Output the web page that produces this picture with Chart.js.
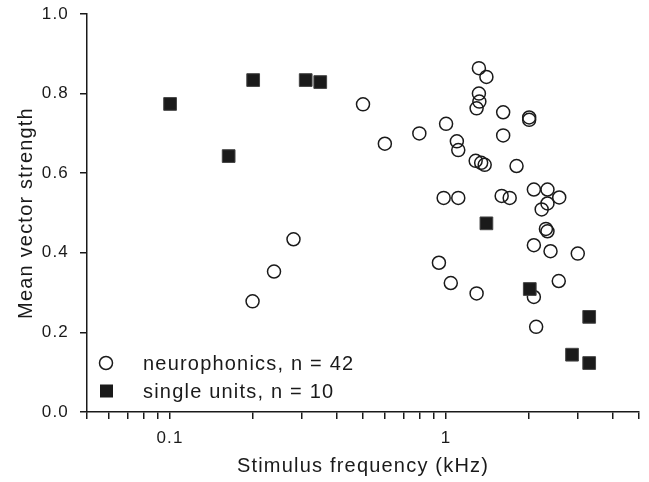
<!DOCTYPE html>
<html>
<head>
<meta charset="utf-8">
<script src="https://cdn.jsdelivr.net/npm/chart.js@4"></script>
<style>
  html, body { margin: 0; padding: 0; background: #fff; }
  #wrap { width: 649px; height: 482px; }
</style>
</head>
<body>
<div id="wrap"><canvas id="myChart" width="649" height="482"></canvas></div>
<script>
// neurophonics (open circles)
var neuroFreq = [0.50, 0.28, 0.238, 0.199, 0.60, 0.80, 1.00, 1.315, 1.40, 1.315,
  1.32, 1.29, 1.61, 2.00, 2.00, 1.61, 1.094, 1.107, 1.28, 1.34,
  1.38, 1.80, 0.98, 1.107, 1.59, 1.70, 2.08, 2.33, 2.57, 2.33,
  2.22, 2.30, 2.33, 2.08, 2.39, 3.00, 0.942, 1.04, 1.29, 2.08,
  2.56, 2.12];
var neuroVS = [0.773, 0.434, 0.353, 0.278, 0.674, 0.700, 0.724, 0.864, 0.842, 0.800,
  0.780, 0.763, 0.753, 0.740, 0.734, 0.695, 0.680, 0.658, 0.631, 0.626,
  0.621, 0.618, 0.538, 0.538, 0.543, 0.538, 0.559, 0.559, 0.539, 0.524,
  0.509, 0.460, 0.454, 0.419, 0.404, 0.398, 0.375, 0.324, 0.298, 0.289,
  0.329, 0.214];

// single units (filled squares)
var unitFreq = [0.10, 0.163, 0.20, 0.31, 0.35, 1.40, 2.01, 3.30, 2.86, 3.30];
var unitVS = [0.774, 0.643, 0.834, 0.834, 0.829, 0.474, 0.309, 0.239, 0.144, 0.123];

var seriesNames = ['neurophonics, n = 42', 'single units, n = 10'];
var xTicks = [0.05, 0.06, 0.07, 0.08, 0.09, 0.1, 0.2, 0.3, 0.4, 0.5, 0.6, 0.7, 0.8, 0.9, 1, 2, 3, 4, 5];
var xLabeled = [0.1, 1];

function toPoints(xs, ys) {
  return xs.map(function (x, i) { return { x: x, y: ys[i] }; });
}

var FONT = "'Liberation Sans', Arial, sans-serif";
var INK = '#1a1a1a';

// the printed figure has loosely spaced lettering
// (canvas resize wipes context state, so set it again before each pass)
var spacing = {
  id: 'spacing',
  beforeUpdate: function (chart) { chart.ctx.letterSpacing = '1.2px'; },
  beforeDraw: function (chart) { chart.ctx.letterSpacing = '1.2px'; }
};

// legend drawn inside the plot, bottom left
var insideLegend = {
  id: 'insideLegend',
  afterDraw: function (chart) {
    var ctx = chart.ctx;
    var a = chart.chartArea;
    ctx.save();
    ctx.font = '20px ' + FONT;
    ctx.textBaseline = 'middle';
    ctx.fillStyle = INK;
    var rows = [a.bottom - 49, a.bottom - 21];
    ctx.beginPath();
    ctx.lineWidth = 1.5;
    ctx.strokeStyle = INK;
    ctx.arc(a.left + 19, rows[0], 6.5, 0, Math.PI * 2);
    ctx.stroke();
    ctx.fillRect(a.left + 13, rows[1] - 6.5, 13, 13);
    ctx.fillText(seriesNames[0], a.left + 56, rows[0] + 1);
    ctx.fillText(seriesNames[1], a.left + 56, rows[1] + 1);
    ctx.restore();
  }
};

var ctx = document.getElementById('myChart');

var myChart = new Chart(ctx, {
  type: 'scatter',
  data: {
    datasets: [{
      label: seriesNames[0],
      data: toPoints(neuroFreq, neuroVS),
      pointStyle: 'circle',
      pointRadius: 6.5,
      pointHoverRadius: 6.5,
      backgroundColor: 'rgba(0,0,0,0)',
      borderColor: INK,
      borderWidth: 1.5,
      order: 1
    }, {
      label: seriesNames[1],
      data: toPoints(unitFreq, unitVS),
      pointStyle: 'rect',
      pointRadius: 9,
      pointHoverRadius: 9,
      backgroundColor: INK,
      borderColor: '#444',
      borderWidth: 1,
      order: 0
    }]
  },
  options: {
    responsive: false,
    animation: false,
    layout: { padding: { top: 14, right: 6, left: 0, bottom: 0 } },
    plugins: {
      legend: { display: false },
      tooltip: { enabled: false }
    },
    scales: {
      x: {
        type: 'logarithmic',
        min: 0.05,
        max: 5,
        afterBuildTicks: function (scale) {
          scale.ticks = xTicks.map(function (v) { return { value: v }; });
        },
        afterFit: function (scale) {
          scale.height = 70;
          scale.paddingLeft = 0;
          scale.paddingRight = 0;
        },
        ticks: {
          autoSkip: false,
          maxRotation: 0,
          padding: 9,
          color: INK,
          font: { family: FONT, size: 17 },
          callback: function (value) {
            return xLabeled.indexOf(value) >= 0 ? String(value) : '';
          }
        },
        grid: {
          drawOnChartArea: false,
          drawTicks: true,
          tickLength: 7,
          color: INK,
          lineWidth: 1.5
        },
        border: { display: true, color: INK, width: 1.5 },
        title: {
          display: true,
          text: 'Stimulus frequency (kHz)',
          color: INK,
          font: { family: FONT, size: 20 },
          padding: { top: 0, bottom: 4 }
        }
      },
      y: {
        min: 0,
        max: 1,
        afterFit: function (scale) {
          scale.width = 87;
          scale.paddingTop = 0;
          scale.paddingBottom = 0;
        },
        ticks: {
          stepSize: 0.2,
          padding: 11,
          color: INK,
          font: { family: FONT, size: 17 },
          callback: function (value) { return value.toFixed(1); }
        },
        grid: {
          drawOnChartArea: false,
          drawTicks: true,
          tickLength: 7,
          color: INK,
          lineWidth: 1.5
        },
        border: { display: true, color: INK, width: 1.5 },
        title: {
          display: true,
          text: 'Mean vector strength',
          color: INK,
          font: { family: FONT, size: 20 },
          padding: { top: 14, bottom: 14 }
        }
      }
    }
  },
  plugins: [spacing, insideLegend]
});
</script>
</body>
</html>
